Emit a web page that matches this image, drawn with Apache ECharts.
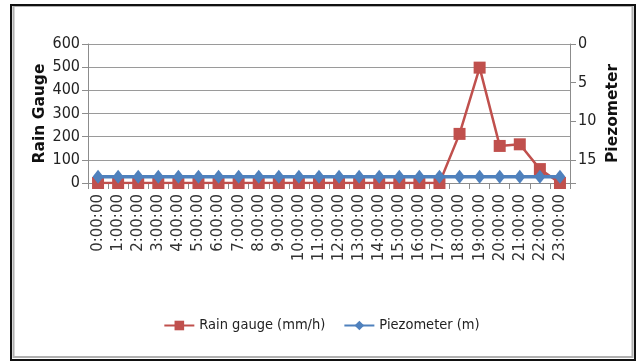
<!DOCTYPE html>
<html>
<head>
<meta charset="utf-8">
<script src="https://cdn.jsdelivr.net/npm/echarts@6/dist/echarts.min.js"></script>
<style>
  html, body { margin: 0; padding: 0; background: #fff; }
  #chart { width: 643px; height: 361px; }
</style>
</head>
<body>
<div id="chart"></div>
<script>
const hours = ['0:00:00', '1:00:00', '2:00:00', '3:00:00', '4:00:00', '5:00:00', '6:00:00', '7:00:00',
  '8:00:00', '9:00:00', '10:00:00', '11:00:00', '12:00:00', '13:00:00', '14:00:00', '15:00:00',
  '16:00:00', '17:00:00', '18:00:00', '19:00:00', '20:00:00', '21:00:00', '22:00:00', '23:00:00']
const rainGauge = [0, 0, 0, 0, 0, 0, 0, 0, 0, 0, 0, 0, 0, 0, 0, 0, 0, 0, 212, 498, 160, 167, 60, 0]
const piezometer = [17.2, 17.2, 17.2, 17.2, 17.2, 17.2, 17.2, 17.2, 17.2, 17.2, 17.2, 17.2,
  17.2, 17.2, 17.2, 17.2, 17.2, 17.2, 17.2, 17.2, 17.2, 17.2, 17.2, 17.2]

const red = '#C0504D'
const blue = '#4F81BD'
const axisGray = '#8c8c8c'
const narrow = '"DejaVu Sans Condensed", "Liberation Sans", sans-serif'

const chart = echarts.init(document.getElementById('chart'))

const option = {
  animation: false,
  backgroundColor: '#fff',
  graphic: [
    {
      type: 'rect',
      shape: { x: 13.5, y: 6, width: 619, height: 351 },
      style: { fill: 'none', stroke: '#b0b0b0', lineWidth: 2 }
    },
    {
      type: 'rect',
      shape: { x: 11, y: 5, width: 624, height: 355 },
      style: { fill: 'none', stroke: '#111', lineWidth: 2 }
    }
  ],
  grid: { left: 88, right: 73, top: 44, bottom: 178 },
  legend: {
    bottom: 23,
    left: 'center',
    itemWidth: 30,
    itemHeight: 12,
    itemGap: 18,
    textStyle: { fontFamily: narrow, fontSize: 14.5, color: '#222' },
    data: ['Rain gauge (mm/h)', 'Piezometer (m)']
  },
  xAxis: {
    type: 'category',
    data: hours,
    boundaryGap: true,
    axisLine: { lineStyle: { color: axisGray } },
    axisTick: { show: true, length: 6, lineStyle: { color: axisGray } },
    axisLabel: {
      rotate: 90,
      interval: 0,
      margin: 11,
      fontFamily: 'DejaVu Sans',
      fontSize: 15,
      color: '#333'
    }
  },
  yAxis: [
    {
      type: 'value',
      min: 0,
      max: 600,
      interval: 100,
      name: 'Rain Gauge',
      nameLocation: 'middle',
      nameGap: 40,
      nameMoveOverlap: false,
      nameTextStyle: { fontFamily: 'DejaVu Sans', fontWeight: 'bold', fontSize: 15.5, color: '#111' },
      axisLine: { show: true, lineStyle: { color: axisGray } },
      axisTick: { show: true, length: 6, lineStyle: { color: axisGray } },
      axisLabel: { fontFamily: narrow, fontSize: 16, color: '#222', margin: 8 },
      splitLine: { lineStyle: { color: '#9a9a9a', width: 1 } }
    },
    {
      type: 'value',
      position: 'right',
      inverse: true,
      min: 0,
      max: 18,
      interval: 5,
      name: 'Piezometer',
      nameLocation: 'middle',
      nameGap: 35,
      nameMoveOverlap: false,
      nameRotate: 90,
      nameTextStyle: { fontFamily: 'DejaVu Sans', fontWeight: 'bold', fontSize: 15.5, color: '#111' },
      axisLine: { show: true, lineStyle: { color: axisGray } },
      axisTick: { show: true, length: 6, lineStyle: { color: axisGray } },
      axisLabel: {
        fontFamily: narrow,
        fontSize: 16,
        color: '#222',
        margin: 8,
        formatter: v => (v % 5 === 0 ? String(v) : '')
      },
      splitLine: { show: false }
    }
  ],
  series: [
    {
      name: 'Rain gauge (mm/h)',
      type: 'line',
      yAxisIndex: 0,
      data: rainGauge,
      symbol: 'rect',
      symbolSize: 12,
      color: red,
      lineStyle: { color: red, width: 2.5 },
      itemStyle: { color: red },
      z: 2
    },
    {
      name: 'Piezometer (m)',
      type: 'line',
      yAxisIndex: 1,
      data: piezometer,
      symbol: 'diamond',
      symbolSize: [11, 14],
      color: blue,
      lineStyle: { color: blue, width: 3.5 },
      itemStyle: { color: blue },
      z: 3
    }
  ]
}

chart.setOption(option)
</script>
</body>
</html>
